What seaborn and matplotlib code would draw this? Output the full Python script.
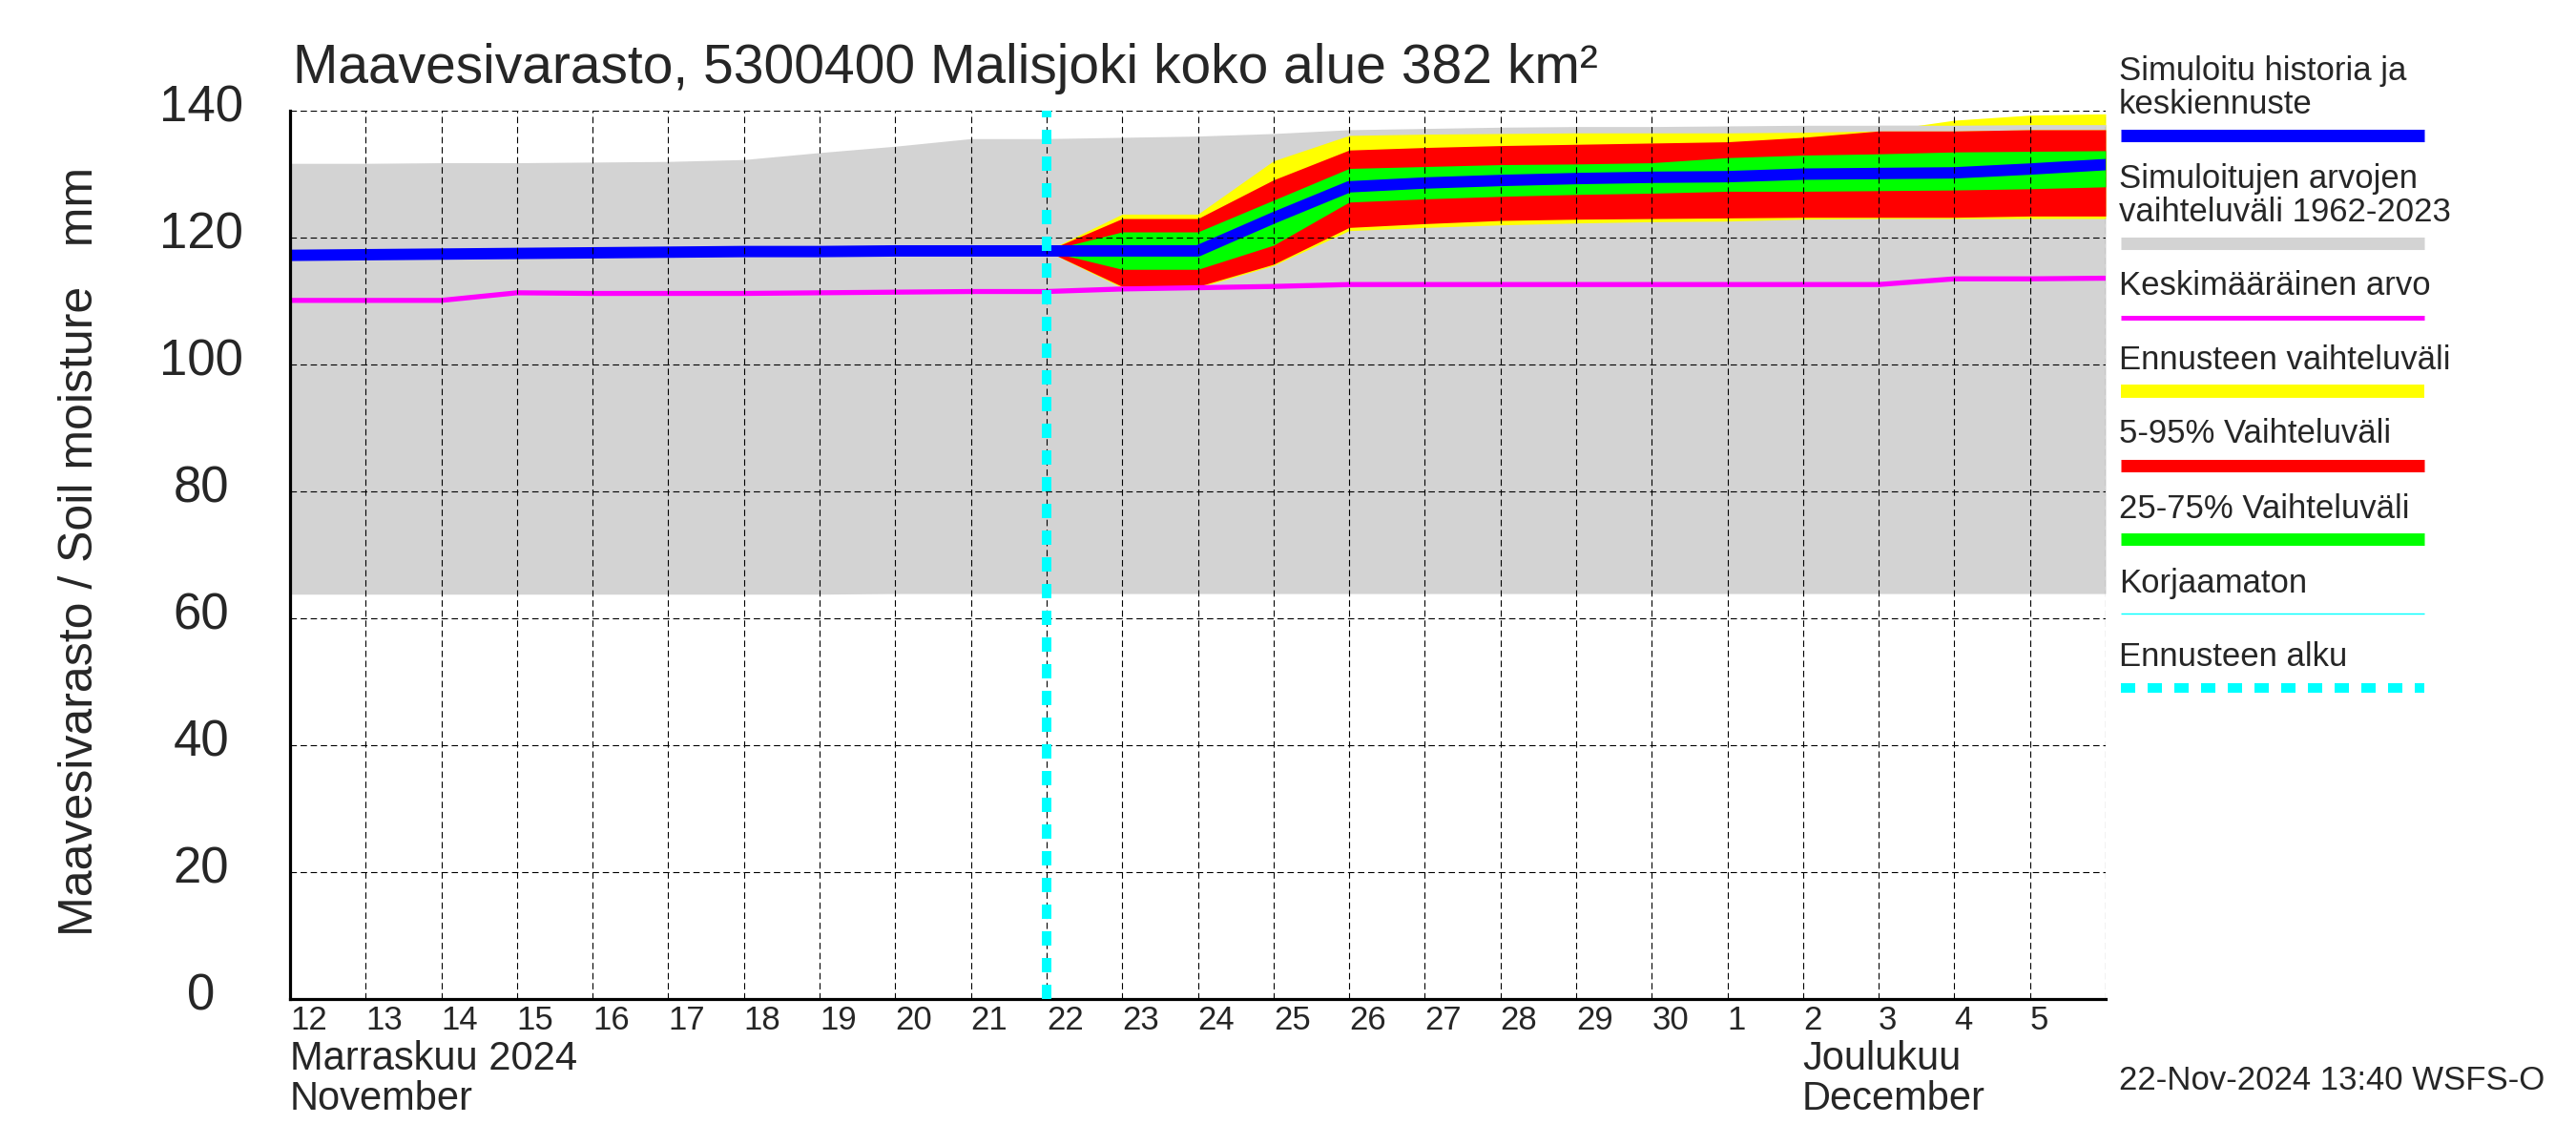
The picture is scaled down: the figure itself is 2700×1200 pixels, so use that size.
import numpy as np
import pandas as pd
import seaborn as sns
import matplotlib.pyplot as plt
from matplotlib.lines import Line2D
from matplotlib.transforms import ScaledTranslation

# daily values, 12 Nov - 6 Dec 2024
days = pd.date_range('2024-11-12', '2024-12-06', freq='D')
fc_days = days[10:]  # forecast from 22 Nov

hist_hi = [131.7, 131.7, 131.8, 131.8, 131.9, 132.0, 132.3, 133.4, 134.4, 135.6,
           135.6, 135.8, 136.0, 136.4, 137.0, 137.2, 137.4, 137.5, 137.5, 137.6,
           137.7, 137.7, 137.7, 137.8, 137.8]
hist_lo = [63.8, 63.8, 63.8, 63.8, 63.8, 63.8, 63.8, 63.8, 63.9, 63.9,
           63.9, 63.9, 63.9, 63.9, 63.9, 63.9, 63.9, 63.9, 63.9, 63.9,
           63.9, 63.9, 63.9, 63.9, 63.9]
median = [117.2, 117.3, 117.4, 117.5, 117.6, 117.7, 117.8, 117.8, 117.9, 117.9,
          117.9, 117.9, 117.9, 123.1, 128.0, 128.6, 129.0, 129.3, 129.5, 129.6,
          130.0, 130.1, 130.2, 130.8, 131.5]
mean_val = [110.1, 110.1, 110.1, 111.3, 111.2, 111.2, 111.2, 111.3, 111.4, 111.5,
            111.5, 111.9, 112.1, 112.3, 112.6, 112.6, 112.6, 112.6, 112.6, 112.6,
            112.6, 112.6, 113.5, 113.5, 113.6]

yellow_hi = [117.9, 123.7, 123.7, 132.1, 136.1, 136.3, 136.4, 136.5, 136.5, 136.5, 136.6, 136.8, 138.5, 139.3, 139.5]
red_hi = [117.9, 123.0, 123.0, 129.1, 133.8, 134.2, 134.5, 134.7, 134.9, 135.1, 135.8, 136.8, 136.8, 137.0, 137.0]
green_hi = [117.9, 120.9, 120.9, 125.9, 130.9, 131.2, 131.5, 131.6, 131.8, 132.6, 133.0, 133.2, 133.5, 133.6, 133.7]
green_lo = [117.9, 115.0, 115.0, 118.8, 125.6, 126.1, 126.5, 126.8, 127.0, 127.3, 127.3, 127.4, 127.5, 127.7, 128.0]
red_lo = [117.9, 112.3, 112.3, 115.8, 121.6, 122.2, 122.7, 122.9, 123.0, 123.1, 123.2, 123.2, 123.2, 123.4, 123.4]
yellow_lo = [117.9, 112.1, 112.1, 115.6, 121.1, 121.6, 122.0, 122.3, 122.5, 122.6, 122.9, 123.0, 123.0, 123.0, 123.0]

day_labels = [str(d.day) for d in days[:-1]]

sns.set_style('white')
plt.rcParams['font.family'] = ['Liberation Sans', 'DejaVu Sans']

W, H = 2700, 1200
fig = plt.figure(figsize=(27, 12), dpi=100)
ax = fig.add_axes([304 / W, 1 - 1047 / H, (2207 - 304) / W, (1047 - 116) / H])
ax.set_axisbelow(True)

gray = '#d3d3d3'
ax.fill_between(days, hist_lo, hist_hi, color=gray, lw=0, zorder=1.0)
ax.fill_between(fc_days, yellow_lo, yellow_hi, color='#ffff00', lw=0, zorder=1.1)
# at the end the history band shows between the 5-95% band and the forecast max
late = np.arange(len(fc_days)) >= 11
ax.fill_between(fc_days, red_hi, hist_hi[10:], where=late, color=gray, lw=0, zorder=1.2)
ax.fill_between(fc_days, red_lo, red_hi, color='#ff0000', lw=0, zorder=1.3)
ax.fill_between(fc_days, green_lo, green_hi, color='#00ff00', lw=0, zorder=1.4)
sns.lineplot(x=days, y=mean_val, color='#ff00ff', lw=3.8, ax=ax, zorder=1.5)
sns.lineplot(x=days, y=median, color='#0000ff', lw=8.6, ax=ax, zorder=1.6)

# dashed grid over the bands
for d in days[1:]:
    ax.axvline(d, color='black', lw=0.8, ls=(0, (6, 3.5)), zorder=2.4)
for v in range(20, 141, 20):
    ax.axhline(v, color='black', lw=0.8, ls=(0, (6, 3.5)), zorder=2.4)

ax.axvline(days[10], color='#00ffff', lw=7.2, ls=(0, (1.5, 1.3)), zorder=3)

ax.set_xlim(days[0], days[-1])
ax.set_ylim(0, 140)
ax.set_xlabel('')
ax.set_ylabel('')

for s in ['top', 'right']:
    ax.spines[s].set_visible(False)
for s in ['left', 'bottom']:
    ax.spines[s].set_linewidth(2.3)
    ax.spines[s].set_color('black')

ax.set_xticks(days[:-1])
ax.set_xticklabels(day_labels, ha='left')
ax.xaxis.remove_overlapping_locs = False
ax.set_xticks([days[19]], minor=True)
ax.tick_params(axis='x', which='major', direction='out', length=25, width=0.75,
               pad=-21, labelsize=25, color='black')
ax.tick_params(axis='x', which='minor', direction='out', length=53, width=0.75, color='black')

ax.set_yticks(range(0, 141, 20))
ax.tick_params(axis='y', direction='in', length=33, width=2.2, pad=67, labelsize=38, color='black')
for lab in ax.get_yticklabels():
    lab.set_ha('center')
    lab.set_transform(lab.get_transform() + ScaledTranslation(0, 0.08, fig.dpi_scale_trans))

def fx(px):
    return px / W

def fy(py):
    return 1 - py / H

fig.text(fx(307), fy(87), 'Maavesivarasto, 5300400 Malisjoki koko alue 382 km²',
         fontsize=41, va='baseline', ha='left')
fig.text(fx(84), fy(578), 'Maavesivarasto / Soil moisture   mm', fontsize=36,
         rotation=90, ha='center', va='center')

fig.text(fx(304), fy(1121), 'Marraskuu 2024', fontsize=30, va='baseline')
fig.text(fx(304), fy(1163), 'November', fontsize=30, va='baseline')
fig.text(fx(1889), fy(1121), 'Joulukuu', fontsize=30, va='baseline')
fig.text(fx(1889), fy(1163), 'December', fontsize=30, va='baseline')
fig.text(fx(2221), fy(1142), '22-Nov-2024 13:40 WSFS-O', fontsize=25, va='baseline')

# legend drawn by hand at the right
legend_text = [('Simuloitu historia ja', 84), ('keskiennuste', 119),
               ('Simuloitujen arvojen', 197), ('vaihteluväli 1962-2023', 232),
               ('Keskimääräinen arvo', 309), ('Ennusteen vaihteluväli', 387),
               ('5-95% Vaihteluväli', 464), ('25-75% Vaihteluväli', 543),
               ('Korjaamaton', 621), ('Ennusteen alku', 698)]
for txt, yb in legend_text:
    fig.text(fx(2221), fy(yb), txt, fontsize=25, va='baseline')

legend_lines = [('#0000ff', 141.5, 9.4, '-'), (gray, 254.5, 9.4, '-'),
                ('#ff00ff', 332.5, 3.6, '-'), ('#ffff00', 410, 10.0, '-'),
                ('#ff0000', 487.5, 9.4, '-'), ('#00ff00', 565.5, 9.4, '-'),
                ('#00ffff', 643, 1.0, '-'), ('#00ffff', 721, 7.2, (0, (1.5, 1.3)))]
for col, yl, lw, ls in legend_lines:
    fig.add_artist(Line2D([fx(2223), fx(2541)], [fy(yl), fy(yl)], color=col, lw=lw,
                          ls=ls, solid_capstyle='butt', transform=fig.transFigure))

fig.savefig('out.png', dpi=100)
